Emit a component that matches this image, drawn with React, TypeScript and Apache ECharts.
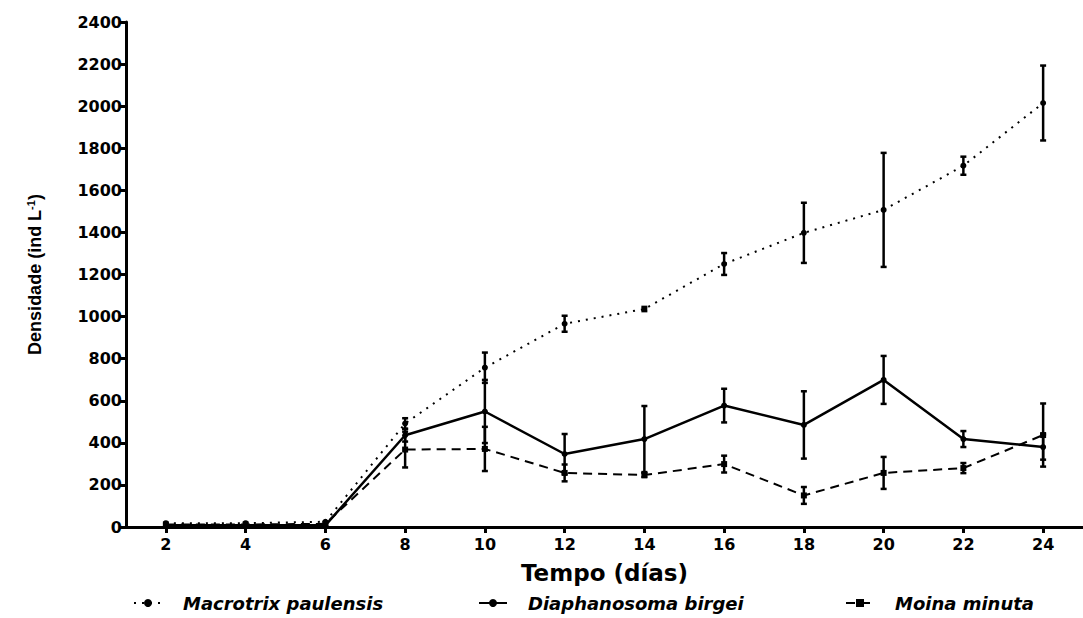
import React, { useEffect, useRef } from "react";
import * as echarts from "echarts";

const days = [2, 4, 6, 8, 10, 12, 14, 16, 18, 20, 22, 24];
const xTicks = [2, 4, 6, 8, 10, 12, 14, 16, 18, 20, 22, 24];

const macrotrixMean = [18, 18, 25, 492, 757, 966, 1036, 1250, 1398, 1507, 1717, 2015];
const macrotrixErr = [0, 0, 0, 25, 72, 38, 10, 52, 143, 271, 43, 178];

const diaphMean = [8, 8, 8, 436, 549, 347, 418, 577, 485, 699, 418, 380];
const diaphErr = [0, 0, 0, 30, 150, 95, 157, 80, 160, 114, 38, 60];

const moinaMean = [12, 12, 15, 368, 371, 257, 247, 299, 150, 257, 280, 437];
const moinaErr = [0, 0, 0, 85, 105, 40, 10, 40, 40, 76, 24, 150];

const seriesNames = ["Macrotrix paulensis", "Diaphanosoma birgei", "Moina minuta"];

function pairs(mean: number[]) {
  return days.map((d, i) => [d, mean[i]]);
}
function errData(mean: number[], err: number[]) {
  return days.map((d, i) => [d, mean[i] - err[i], mean[i] + err[i]]);
}

function renderErr(params: any, api: any) {
  const x = api.value(0);
  const lo = api.value(1);
  const hi = api.value(2);
  if (hi - lo <= 0) return null;
  const p1 = api.coord([x, hi]);
  const p2 = api.coord([x, lo]);
  const w = 3;
  const st = { stroke: "#000", lineWidth: 2.5 };
  return {
    type: "group",
    children: [
      { type: "line", shape: { x1: p1[0], y1: p1[1], x2: p2[0], y2: p2[1] }, style: st },
      { type: "line", shape: { x1: p1[0] - w, y1: p1[1], x2: p1[0] + w, y2: p1[1] }, style: st },
      { type: "line", shape: { x1: p2[0] - w, y1: p2[1], x2: p2[0] + w, y2: p2[1] }, style: st },
    ],
  };
}

export default function App() {
  const ref = useRef<HTMLDivElement>(null);
  useEffect(() => {
    if (!ref.current) return;
    const chart = echarts.init(ref.current, null, { renderer: "svg" });
    const legendText = {
      fontFamily: "DejaVu Sans",
      fontWeight: "bold" as const,
      fontStyle: "italic" as const,
      fontSize: 18,
      color: "#000",
      padding: [0, 0, 0, 16],
    };
    const mkLegend = (name: string, left: number) => ({
      data: [name],
      left,
      top: 594,
      padding: 0,
      itemWidth: 28,
      itemHeight: 10,
      textStyle: legendText,
      selectedMode: false,
    });
    chart.setOption({
      animation: false,
      backgroundColor: "#fff",
      grid: { left: 126, top: 22, height: 505, width: 965, containLabel: false },
      xAxis: {
        type: "value",
        min: 1,
        max: 25,
        name: "Tempo (días)",
        nameLocation: "middle",
        nameGap: 34,
        nameTextStyle: { fontFamily: "DejaVu Sans", fontWeight: "bold", fontSize: 23, color: "#000" },
        axisLine: { show: true, onZero: false, lineStyle: { color: "#000", width: 3 } },
        axisTick: { show: true, customValues: xTicks, length: 6, lineStyle: { color: "#000", width: 3 } },
        axisLabel: {
          customValues: xTicks,
          margin: 9,
          fontFamily: "DejaVu Sans",
          fontWeight: "bold",
          fontSize: 16,
          color: "#000",
        },
        splitLine: { show: false },
      },
      yAxis: {
        type: "value",
        min: 0,
        max: 2400,
        interval: 200,
        name: "{a|Densidade (ind L}{b|-1}{a|)}",
        nameLocation: "middle",
        nameGap: 82,
        nameTextStyle: {
          rich: {
            a: { fontFamily: "Liberation Sans", fontWeight: "bold", fontSize: 18, color: "#000" },
            b: { fontFamily: "Liberation Sans", fontWeight: "bold", fontSize: 11, color: "#000", verticalAlign: "top", padding: [0, 0, 8, 0] },
          },
        },
        axisLine: { show: true, lineStyle: { color: "#000", width: 3 } },
        axisTick: { show: true, length: 6, lineStyle: { color: "#000", width: 3 } },
        axisLabel: {
          margin: 4,
          formatter: (v: number) => String(v),
          fontFamily: "DejaVu Sans",
          fontWeight: "bold",
          fontSize: 16,
          color: "#000",
        },
        splitLine: { show: false },
      },
      legend: [mkLegend(seriesNames[0], 133), mkLegend(seriesNames[1], 478), mkLegend(seriesNames[2], 845)],
      series: [
        {
          name: seriesNames[0],
          type: "line",
          data: pairs(macrotrixMean),
          symbol: "circle",
          symbolSize: 6,
          itemStyle: { color: "#000" },
          lineStyle: { color: "#000", width: 2, type: [2, 6] },
          z: 3,
        },
        {
          name: seriesNames[1],
          type: "line",
          data: pairs(diaphMean),
          symbol: "circle",
          symbolSize: 6,
          itemStyle: { color: "#000" },
          lineStyle: { color: "#000", width: 2.5, type: "solid" },
          z: 3,
        },
        {
          name: seriesNames[2],
          type: "line",
          data: pairs(moinaMean),
          symbol: "rect",
          symbolSize: 6,
          itemStyle: { color: "#000" },
          lineStyle: { color: "#000", width: 2, type: [9, 6] },
          z: 3,
        },
        {
          type: "custom",
          name: "errM",
          renderItem: renderErr,
          data: errData(macrotrixMean, macrotrixErr),
          encode: { x: 0, y: [1, 2] },
          z: 4,
        },
        {
          type: "custom",
          name: "errD",
          renderItem: renderErr,
          data: errData(diaphMean, diaphErr),
          encode: { x: 0, y: [1, 2] },
          z: 4,
        },
        {
          type: "custom",
          name: "errMo",
          renderItem: renderErr,
          data: errData(moinaMean, moinaErr),
          encode: { x: 0, y: [1, 2] },
          z: 4,
        },
      ],
    });
    return () => chart.dispose();
  }, []);
  return (
    <div
      ref={ref}
      style={{ position: "absolute", left: 0, top: 0, width: 1083, height: 618, background: "#fff" }}
    />
  );
}
